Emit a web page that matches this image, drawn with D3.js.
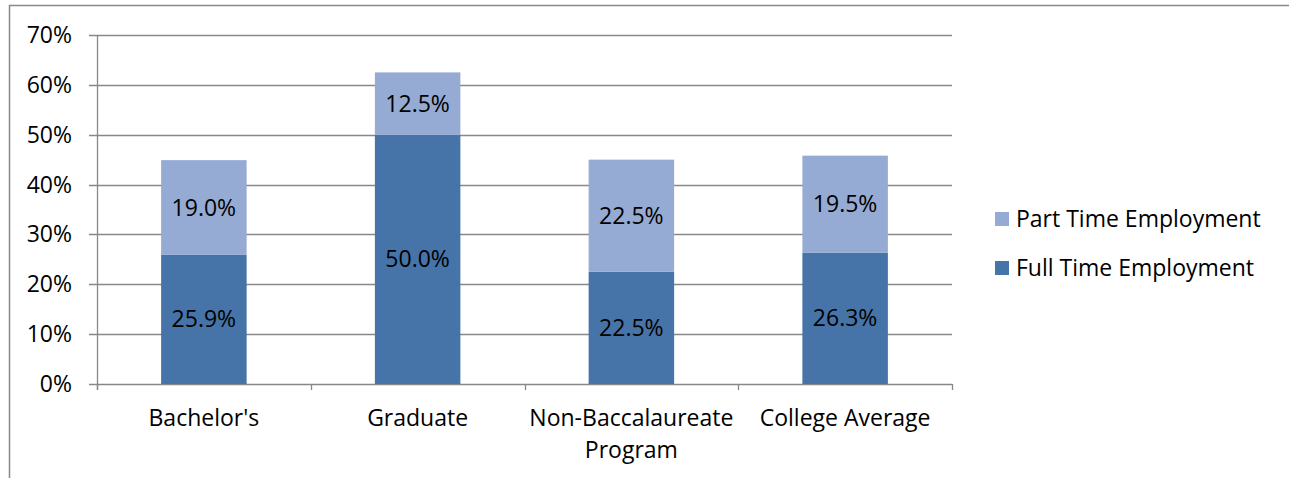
<!DOCTYPE html>
<html><head><meta charset="utf-8">
<script src="https://cdn.jsdelivr.net/npm/d3@7"></script>
<style>body{margin:0;background:#fff}svg{display:block}text{font-family:"Open Sans",sans-serif;fill:#000}</style>
</head><body>
<svg id="c" width="1289" height="478"></svg>
<script>
const categories = ["Bachelor's", "Graduate", "Non-Baccalaureate Program", "College Average"];
const fullTime = [25.9, 50.0, 22.5, 26.3];
const partTime = [19.0, 12.5, 22.5, 19.5];
const seriesNames = ["Full Time Employment", "Part Time Employment"];
const yTicks = [0, 10, 20, 30, 40, 50, 60, 70];
const colors = {"Full Time Employment": "#4674A8", "Part Time Employment": "#95ABD3"};

const FS = 23;
const svg = d3.select("#c");
svg.append("rect").attr("x", 9.5).attr("y", 5.5).attr("width", 1300).attr("height", 500)
  .attr("fill", "none").attr("stroke", "#888").attr("stroke-width", 1.5);

const L = 97, R = 952, T = 35, B = 384;
const x = d3.scaleBand().domain(categories).range([L, R]).paddingInner(0.6).paddingOuter(0.3);
const xOuter = d3.scaleBand().domain(categories).range([L, R]);
const y = d3.scaleLinear().domain([0, 70]).range([B, T]);

// gridlines
svg.append("g").selectAll("line").data(yTicks).join("line")
  .attr("x1", L - 8).attr("x2", R).attr("y1", d => Math.round(y(d)) + 0.5).attr("y2", d => Math.round(y(d)) + 0.5)
  .attr("stroke", "#888").attr("stroke-width", 1.3);

// y axis
svg.append("line").attr("x1", L + 0.5).attr("x2", L + 0.5).attr("y1", T).attr("y2", B + 6)
  .attr("stroke", "#888").attr("stroke-width", 1.3);
svg.append("g").selectAll("text").data(yTicks).join("text")
  .attr("x", 72).attr("y", d => y(d)).attr("dy", "0.35em").attr("text-anchor", "end")
  .attr("font-size", FS).text(d => d + "%");

// x tick marks at category boundaries
const bounds = categories.map(c => xOuter(c)).concat([R]);
svg.append("g").selectAll("line").data(bounds).join("line")
  .attr("x1", d => Math.round(d) + 0.5).attr("x2", d => Math.round(d) + 0.5)
  .attr("y1", B).attr("y2", B + 6).attr("stroke", "#888").attr("stroke-width", 1.3);

// stack
const rows = categories.map((c, i) => ({cat: c, "Full Time Employment": fullTime[i], "Part Time Employment": partTime[i]}));
const stack = d3.stack().keys(seriesNames)(rows);
const g = svg.append("g");
stack.forEach(s => {
  g.selectAll(null).data(s).join("rect")
    .attr("x", d => x(d.data.cat)).attr("width", x.bandwidth())
    .attr("y", d => y(d[1])).attr("height", d => y(d[0]) - y(d[1]))
    .attr("fill", colors[s.key]);
  g.selectAll(null).data(s).join("text")
    .attr("x", d => x(d.data.cat) + x.bandwidth() / 2)
    .attr("y", d => (y(d[0]) + y(d[1])) / 2).attr("dy", "0.35em")
    .attr("text-anchor", "middle").attr("font-size", FS)
    .text(d => (d[1] - d[0]).toFixed(1) + "%");
});

// category labels
const labelLines = {"Non-Baccalaureate Program": ["Non-Baccalaureate", "Program"]};
categories.forEach(c => {
  const lines = labelLines[c] || [c];
  lines.forEach((ln, j) => {
    svg.append("text").attr("x", xOuter(c) + xOuter.bandwidth() / 2).attr("y", 418 + j * 32)
      .attr("dy", "0.35em").attr("text-anchor", "middle").attr("font-size", FS).text(ln);
  });
});

// legend
const legendItems = ["Part Time Employment", "Full Time Employment"];
legendItems.forEach((k, i) => {
  const ly = 219 + i * 49;
  svg.append("rect").attr("x", 995).attr("y", ly - 7).attr("width", 14).attr("height", 14).attr("fill", colors[k]);
  svg.append("text").attr("x", 1016).attr("y", ly).attr("dy", "0.35em").attr("font-size", FS).text(k);
});
</script>
</body></html>
